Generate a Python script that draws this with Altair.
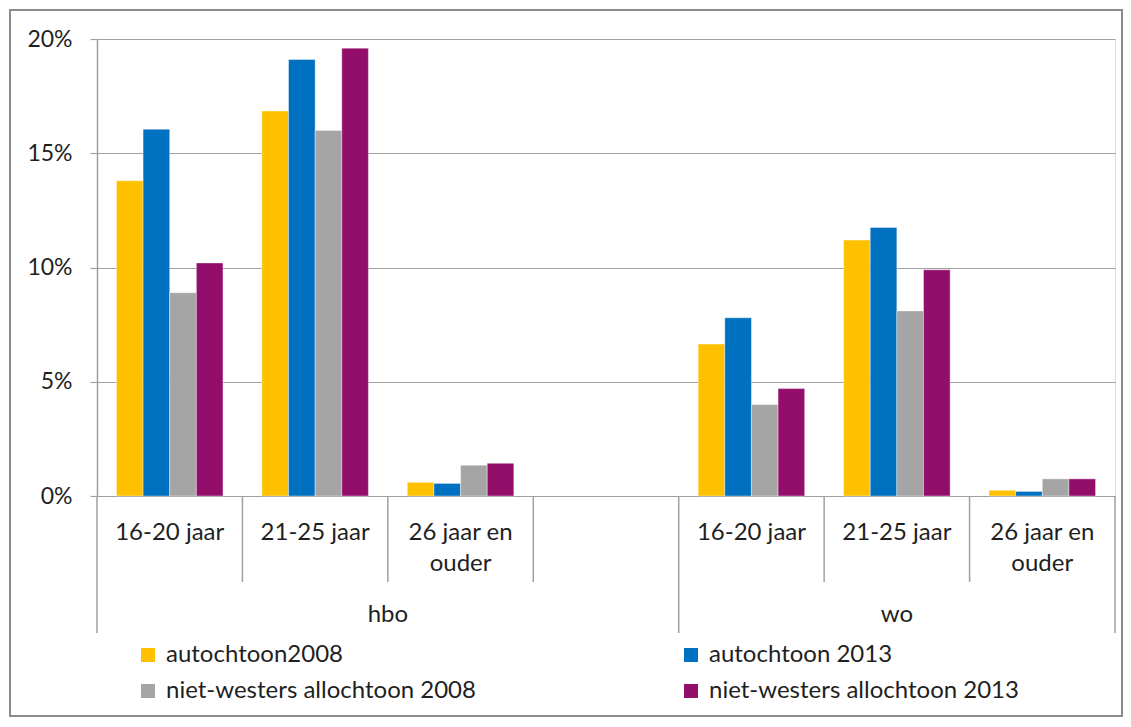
import altair as alt
import pandas as pd

# ---- data ----
groups = ["hbo", "hbo", "hbo", "hbo", "wo", "wo", "wo"]
ages = ["16-20 jaar", "21-25 jaar", "26 jaar en\nouder", "",
        "16-20 jaar", "21-25 jaar", "26 jaar en\nouder"]
series = ["autochtoon2008", "autochtoon 2013",
          "niet-westers allochtoon 2008", "niet-westers allochtoon 2013"]
colors = ["#FFC000", "#0070C0", "#A5A5A5", "#930E6B"]

aut2008 = [13.8, 16.85, 0.6, None, 6.65, 11.2, 0.25]
aut2013 = [16.05, 19.1, 0.55, None, 7.8, 11.75, 0.2]
nw2008 = [8.9, 16.0, 1.35, None, 4.0, 8.1, 0.75]
nw2013 = [10.2, 19.6, 1.43, None, 4.7, 9.9, 0.75]

y_ticks = [0, 5, 10, 15, 20]

FONT = "Lato"
TXT = "#1f1f1f"
LINE = "#a0a0a0"
FS = 24

slots = [f"{g}-{i}" for i, g in enumerate(groups)]

rows = []
for name, vals in zip(series, [aut2008, aut2013, nw2008, nw2013]):
    for slot, v in zip(slots, vals):
        if v is not None:
            rows.append({"slot": slot, "serie": name, "value": v})
bars_df = pd.DataFrame(rows)

xscale = alt.Scale(domain=slots, paddingInner=0, paddingOuter=0)


def xenc(band=0.5):
    return alt.X("slot:N", scale=xscale, axis=None, bandPosition=band)


bars = alt.Chart(bars_df).mark_bar(stroke="white", strokeWidth=0.4).encode(
    x=alt.X("slot:N", scale=xscale, axis=None),
    xOffset=alt.XOffset("serie:N", scale=alt.Scale(domain=series, paddingInner=0, paddingOuter=0.73)),
    y=alt.Y("value:Q", scale=alt.Scale(domain=[0, 20], nice=False),
            axis=alt.Axis(values=y_ticks, labelExpr="datum.value + '%'", title=None,
                          grid=True, gridColor=LINE, gridWidth=1.2,
                          domain=True, domainColor=LINE, domainWidth=1.5,
                          ticks=True, tickColor=LINE, tickSize=7, tickWidth=1.2,
                          labelFont=FONT, labelFontSize=23, labelColor=TXT,
                          labelPadding=18, labelBaseline="middle")),
    color=alt.Color("serie:N", scale=alt.Scale(domain=series, range=colors),
                    legend=alt.Legend(orient="none", legendX=39, legendY=604, columns=2,
                                      direction="horizontal",
                                      columnPadding=203, rowPadding=12,
                                      symbolType="square", symbolSize=196,
                                      symbolStrokeWidth=0, labelOffset=6,
                                      labelFont=FONT, labelFontSize=FS, labelColor=TXT,
                                      labelLimit=500, title=None)),
)

age_df = pd.DataFrame({"slot": slots, "label": ages})
age_df = age_df[age_df["label"] != ""]
age_text = alt.Chart(age_df).mark_text(
    font=FONT, fontSize=FS, color=TXT, baseline="alphabetic", align="center",
    lineBreak="\n", lineHeight=31,
).encode(x=xenc(0.5), y=alt.value(501), text="label:N")

hbo_text = alt.Chart(pd.DataFrame({"slot": [slots[2]], "label": ["hbo"]})).mark_text(
    font=FONT, fontSize=FS, color=TXT, baseline="alphabetic", align="center"
).encode(x=xenc(0), y=alt.value(583), text="label:N")
wo_text = alt.Chart(pd.DataFrame({"slot": [slots[5]], "label": ["wo"]})).mark_text(
    font=FONT, fontSize=FS, color=TXT, baseline="alphabetic", align="center"
).encode(x=xenc(0.5), y=alt.value(583), text="label:N")

short_rules = alt.Chart(pd.DataFrame({"slot": [slots[i] for i in [1, 2, 3, 5, 6]]})).mark_rule(
    color=LINE, strokeWidth=1.5).encode(x=xenc(0), y=alt.value(457), y2=alt.value(543))
long_rules = alt.Chart(pd.DataFrame({"slot": [slots[0], slots[4]]})).mark_rule(
    color=LINE, strokeWidth=1.5).encode(x=xenc(0), y=alt.value(457), y2=alt.value(594))
end_rule = alt.Chart(pd.DataFrame({"slot": [slots[6]]})).mark_rule(
    color=LINE, strokeWidth=1.5).encode(x=xenc(1), y=alt.value(457), y2=alt.value(594))

border = alt.Chart(pd.DataFrame({"a": [0]})).mark_rect(
    fill="white", fillOpacity=0, stroke="#8c8c8c", strokeWidth=2
).encode(x=alt.value(-87), x2=alt.value(1025), y=alt.value(-29), y2=alt.value(677))

chart = alt.layer(border, bars, short_rules, long_rules, end_rule, age_text, hbo_text, wo_text).properties(
    width=1018, height=457,
    autosize=alt.AutoSizeParams(type="none"),
    padding={"left": 89, "top": 31, "right": 8, "bottom": 222},
).configure_view(stroke=None).configure(background="white")

chart.save("out.html", embed_options={"renderer": "svg", "actions": False})
